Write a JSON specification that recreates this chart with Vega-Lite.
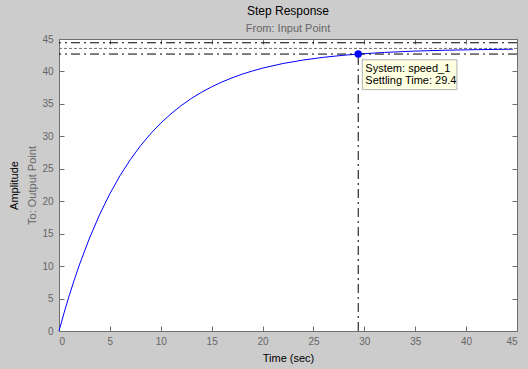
{
  "$schema": "https://vega.github.io/schema/vega-lite/v6.json",
  "width": 458,
  "height": 292,
  "autosize": {"type": "none"},
  "padding": {"left": 59, "top": 39, "right": 11, "bottom": 38},
  "background": "#cccccc",
  "config": {
    "font": "Liberation Sans",
    "view": {"fill": "white", "stroke": "#6e6e6e", "strokeWidth": 1},
    "axis": {"grid": false, "domain": false, "tickColor": "#6e6e6e", "tickSize": -5, "labelColor": "#666666", "labelFontSize": 10, "labelFont": "Liberation Sans", "titleFont": "Liberation Sans", "titleFontWeight": "normal", "titleFontSize": 11}
  },
  "title": {
    "text": "Step Response",
    "subtitle": "From: Input Point",
    "fontSize": 12,
    "fontWeight": "normal",
    "color": "black",
    "subtitleColor": "#666666",
    "subtitleFontSize": 11,
    "subtitlePadding": 5,
    "anchor": "middle",
    "offset": -1
  },
  "datasets": {
    "curve": [
      {"t": 0, "amp": 0}, {"t": 0.5, "amp": 2.80}, {"t": 1, "amp": 5.43}, {"t": 1.5, "amp": 7.88},
      {"t": 2, "amp": 10.18}, {"t": 3, "amp": 14.33}, {"t": 4, "amp": 17.97}, {"t": 5, "amp": 21.16},
      {"t": 6, "amp": 23.95}, {"t": 7, "amp": 26.39}, {"t": 8, "amp": 28.53}, {"t": 9, "amp": 30.40},
      {"t": 10, "amp": 32.04}, {"t": 11, "amp": 33.47}, {"t": 12, "amp": 34.73}, {"t": 13, "amp": 35.83},
      {"t": 14, "amp": 36.79}, {"t": 15, "amp": 37.63}, {"t": 16, "amp": 38.37}, {"t": 17, "amp": 39.01},
      {"t": 18, "amp": 39.58}, {"t": 19, "amp": 40.07}, {"t": 20, "amp": 40.51}, {"t": 22, "amp": 41.22},
      {"t": 24, "amp": 41.76}, {"t": 26, "amp": 42.18}, {"t": 28, "amp": 42.50}, {"t": 29.4, "amp": 42.68},
      {"t": 32, "amp": 42.93}, {"t": 35, "amp": 43.14}, {"t": 38, "amp": 43.27}, {"t": 41, "amp": 43.36},
      {"t": 44.6, "amp": 43.43}
    ],
    "bounds": [
      {"level": 44.42, "kind": "upper"},
      {"level": 42.68, "kind": "lower"}
    ],
    "final": [{"level": 43.55}],
    "settle": [{"t": 29.4, "amp": 42.68, "base": 0}],
    "box": [{"x1": 29.8, "x2": 39.1, "y1": 37.2, "y2": 41.8}],
    "notes": [
      {"x": 30.1, "y": 39.9, "label": "System: speed_1"},
      {"x": 30.1, "y": 38.0, "label": "Settling Time: 29.4"}
    ]
  },
  "layer": [
    {
      "data": {"name": "curve"},
      "mark": {"type": "line", "color": "#0000ff", "strokeWidth": 1},
      "encoding": {
        "x": {"field": "t", "type": "quantitative", "scale": {"domain": [0, 45], "nice": false, "zero": false},
              "axis": {"orient": "bottom", "values": [0,5,10,15,20,25,30,35,40,45], "title": "Time (sec)", "titleColor": "black", "labelPadding": 10, "titlePadding": 6}},
        "y": {"field": "amp", "type": "quantitative", "scale": {"domain": [0, 45], "nice": false, "zero": false},
              "axis": {"orient": "left", "values": [0,5,10,15,20,25,30,35,40,45], "title": "To: Output Point", "titleColor": "#666666", "labelPadding": 11, "titlePadding": 4}}
      }
    },
    {
      "data": {"name": "bounds"},
      "mark": {"type": "rule", "color": "black", "strokeWidth": 1, "strokeDash": [9, 4, 2, 4]},
      "encoding": {
        "y": {"field": "level", "type": "quantitative",
              "axis": {"orient": "right", "values": [0,5,10,15,20,25,30,35,40,45], "labels": false, "title": null}}
      }
    },
    {
      "data": {"name": "final"},
      "mark": {"type": "rule", "color": "#707070", "strokeWidth": 1, "strokeDash": [3, 2]},
      "encoding": {
        "y": {"field": "level", "type": "quantitative", "axis": null}
      }
    },
    {
      "data": {"name": "settle"},
      "mark": {"type": "rule", "color": "black", "strokeWidth": 1, "strokeDash": [9, 4, 2, 4]},
      "encoding": {
        "x": {"field": "t", "type": "quantitative",
              "axis": {"orient": "top", "values": [0,5,10,15,20,25,30,35,40,45], "labels": false, "title": null}},
        "y": {"field": "base", "type": "quantitative",
              "axis": {"orient": "left", "labels": false, "ticks": false, "title": "Amplitude", "titleColor": "black", "titlePadding": 40}},
        "y2": {"field": "amp"}
      }
    },
    {
      "data": {"name": "settle"},
      "mark": {"type": "point", "filled": true, "color": "#0000ff", "size": 55, "opacity": 1},
      "encoding": {
        "x": {"field": "t", "type": "quantitative", "axis": null},
        "y": {"field": "amp", "type": "quantitative", "axis": null}
      }
    },
    {
      "data": {"name": "box"},
      "mark": {"type": "rect", "fill": "#ffffe1", "stroke": "#b0b0b0", "strokeWidth": 1},
      "encoding": {
        "x": {"field": "x1", "type": "quantitative", "axis": null},
        "x2": {"field": "x2"},
        "y": {"field": "y1", "type": "quantitative", "axis": null},
        "y2": {"field": "y2"}
      }
    },
    {
      "data": {"name": "notes"},
      "mark": {"type": "text", "align": "left", "baseline": "alphabetic", "fontSize": 11, "color": "black"},
      "encoding": {
        "x": {"field": "x", "type": "quantitative", "axis": null},
        "y": {"field": "y", "type": "quantitative", "axis": null},
        "text": {"field": "label"}
      }
    }
  ],
  "resolve": {"axis": {"x": "independent", "y": "independent"}}
}
